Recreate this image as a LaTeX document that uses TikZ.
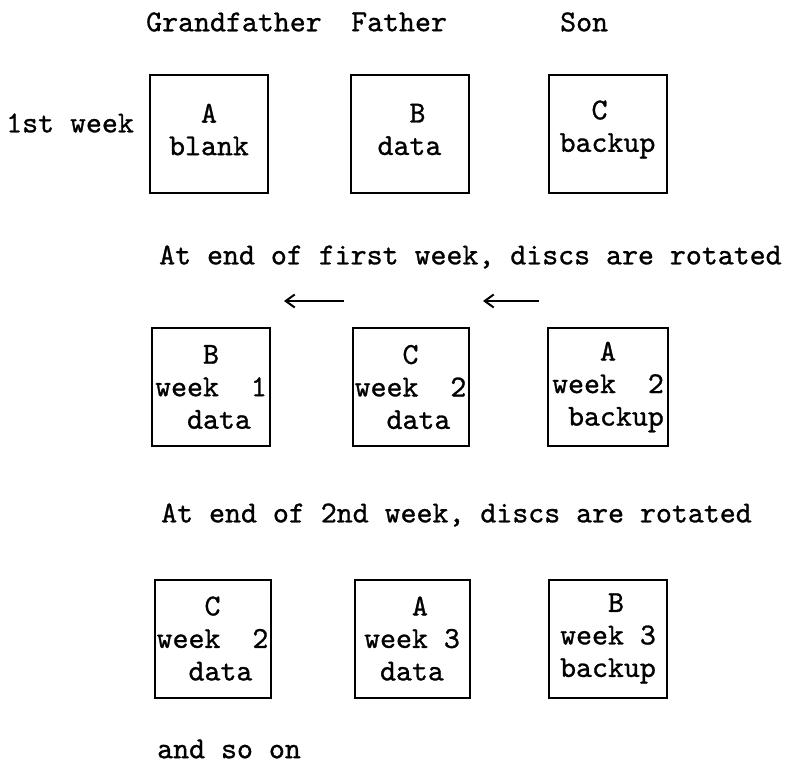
\documentclass[tikz,border=0pt]{standalone}
\usepackage{fontspec}
\newfontfamily\typewriter[FakeBold=0.9]{lmmono10-regular.otf}
\usetikzlibrary{arrows.meta}
\begin{document}
\begin{tikzpicture}[x=1pt,y=-1pt,
  every node/.style={font=\typewriter\fontsize{30.4}{32.5}\selectfont, inner sep=0pt},
  label/.style={anchor=west},
  disc/.style={draw, line width=2pt, minimum width=#1, minimum height=118pt},
  disc/.default=118pt,
  disctext/.style={align=left},
  rotarrow/.style={line width=2pt, {Straight Barb[length=9pt,width=13pt,line width=2pt]}-}
]
\useasboundingbox (0,0) rectangle (793,765);

% column headings
\node[label] (hgf) at (146,22) {Grandfather};
\node[label] (hf)  at (351,22) {Father};
\node[label] (hs)  at (560,22) {Son};

% first week
\node[label] (w1) at (6,123) {1st week};
\node[disc] (a1) at (209,134) {};
\node[disc] (b1) at (409.5,134) {};
\node[disc] (c1) at (607.5,134) {};
\node[disctext, yshift=4.5pt] (a1t) at (a1.center) {~~A\\blank};
\node[disctext, yshift=4.5pt] (b1t) at (b1.center) {~~B\\data};
\node[disctext, yshift=4.5pt] (c1t) at (c1.center) {~~C\\backup};

\node[label] (t1) at (159,257) {At end of first week, discs are rotated};

% rotation arrows
\coordinate (r1s) at (344,301); \coordinate (r1e) at (284,301);
\coordinate (r2s) at (539,301); \coordinate (r2e) at (483,301);
\draw[rotarrow] (r1e) -- (r1s);
\draw[rotarrow] (r2e) -- (r2s);

% second week
\node[disc] (b2) at (211,387) {};
\node[disc=116pt] (c2) at (410.5,387) {};
\node[disc=120pt] (a2) at (608,387) {};
\node[disctext] (b2t) at (b2.center) {~~~B\\week~~1\\~~data};
\node[disctext] (c2t) at (c2.center) {~~~C\\week~~2\\~~data};
\node[disctext] (a2t) at (a2.center) {~~~A\\week~~2\\~backup};

\node[label] (t2) at (161,515) {At end of 2nd week, discs are rotated};

% third week
\node[disc=116pt] (c3) at (212.5,638.5) {};
\node[disc=115pt] (a3) at (412,638.5) {};
\node[disc] (b3) at (608,638.5) {};
\node[disctext] (c3t) at (c3.center) {~~~C\\week~~2\\~~data};
\node[disctext] (a3t) at (a3.center) {~~~A\\week~3\\~data};
\node[disctext] (b3t) at (b3.center) {~~~B\\week~3\\backup};

\node[label] (t3) at (157,749) {and so on};
\end{tikzpicture}
\end{document}
